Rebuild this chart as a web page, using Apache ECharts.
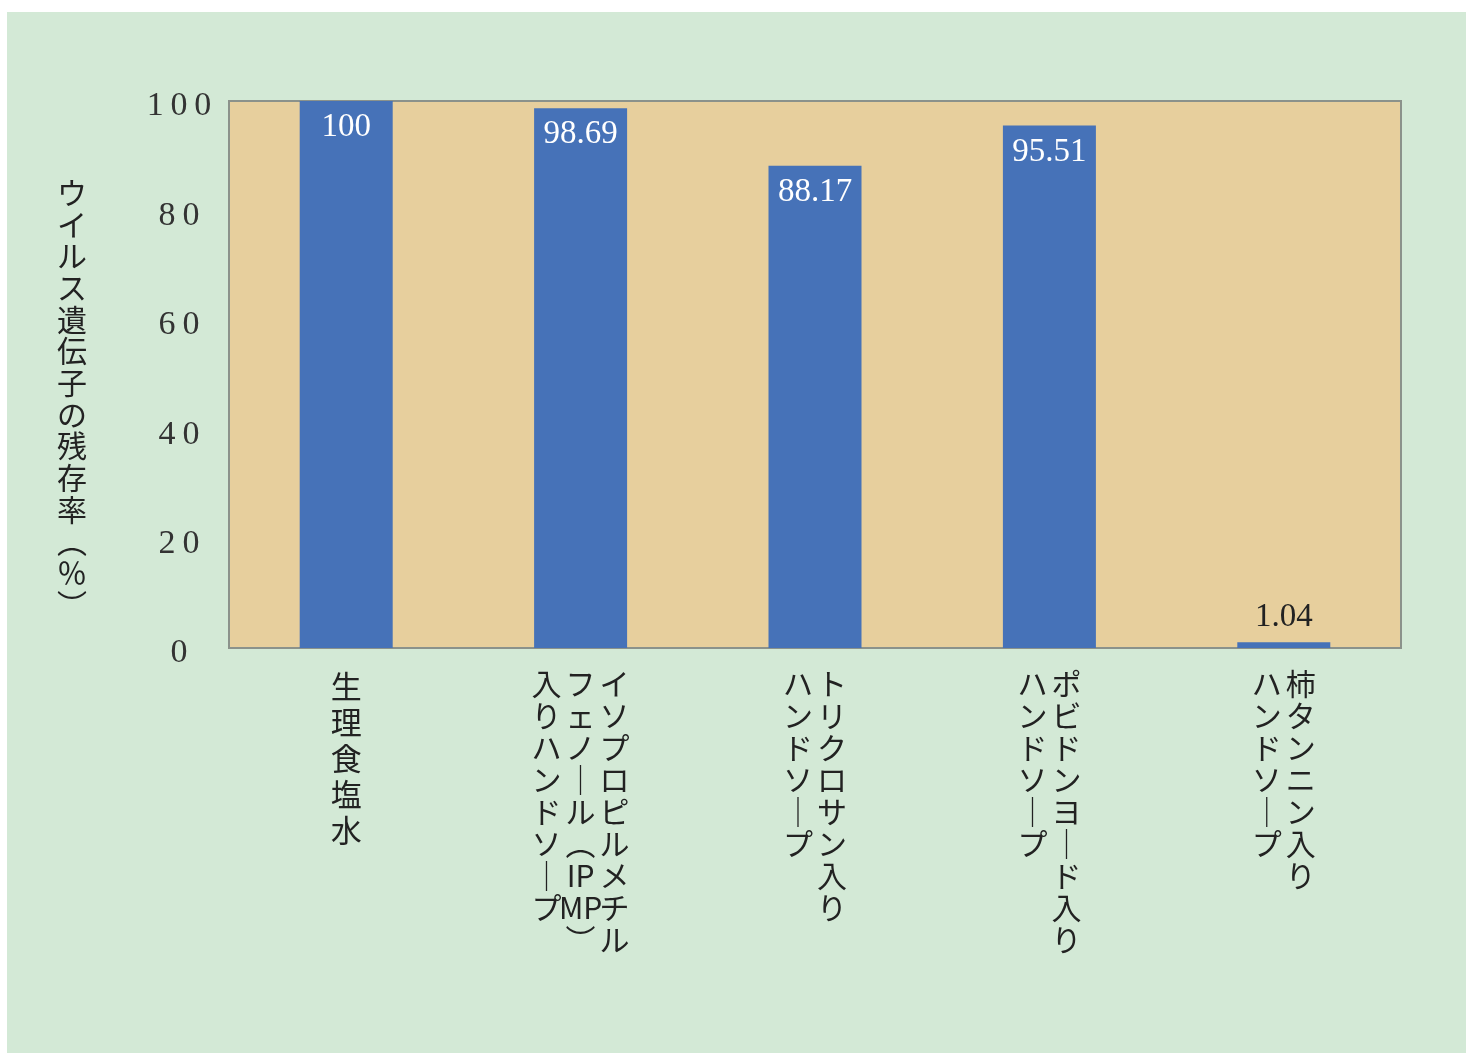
<!DOCTYPE html>
<html>
<head>
<meta charset="utf-8">
<script src="https://cdn.jsdelivr.net/npm/echarts@6/dist/echarts.min.js"></script>
<style>
  html, body { margin: 0; padding: 0; background: #ffffff; }
  #chart { position: absolute; left: 7px; top: 12px; width: 1459px; height: 1041px; background: #d3e9d6; }
</style>
</head>
<body>
<div id="chart"></div>
<script>
// categories: columns of vertical text, first column is the rightmost one
const categories = [
  "生理食塩水",
  "イソプロピルメチル\nフェノール（IPMP）\n入りハンドソープ",
  "トリクロサン入り\nハンドソープ",
  "ポビドンヨード入り\nハンドソープ",
  "柿タンニン入り\nハンドソープ"
];
const residualRate = [100, 98.69, 88.17, 95.51, 1.04];
const yTicks = [0, 20, 40, 60, 80, 100];
const yAxisName = "ウイルス遺伝子の残存率︵％︶";

// split one column into cells for vertical writing
function toCells(col) {
  const cells = [];
  let latin = "";
  for (const ch of col) {
    if (/[A-Za-z0-9]/.test(ch)) {
      latin += ch;
      if (latin.length === 2) { cells.push(latin); latin = ""; }
      continue;
    }
    if (latin) { cells.push(latin); latin = ""; }
    if (ch === "（") cells.push("︵");
    else if (ch === "）") cells.push("︶");
    else if (ch === "ー") cells.push("｜");
    else cells.push(ch);
  }
  if (latin) cells.push(latin);
  return cells;
}

const isKanji = (s) => /^[\u4e00-\u9fff]$/.test(s);

function verticalLabel(value) {
  const cols = value.split("\n").map(toCells);
  const rows = Math.max(...cols.map((c) => c.length));
  const lines = [];
  for (let r = 0; r < rows; r++) {
    const cells = cols.slice().reverse().map((c) => c[r] || "　");
    // kanji-only rows get a little more room, like the original typesetting
    const st = cells.every(isKanji) ? "k" : "c";
    lines.push(cells.map((c) => "{" + st + "|" + c + "}").join(""));
  }
  return lines.join("\n");
}

const cellStyle = {
  fontSize: 30,
  fontFamily: "Noto Sans CJK JP",
  color: "#222222",
  width: 34,
  align: "center",
  lineHeight: 32
};

const chart = echarts.init(document.getElementById("chart"));
chart.setOption({
  animation: false,
  grid: {
    left: 222,
    right: 65,
    top: 89,
    bottom: 405,
    show: true,
    backgroundColor: "#e7cf9d",
    borderColor: "#8b928b",
    borderWidth: 2
  },
  xAxis: {
    type: "category",
    data: categories,
    axisLine: { show: false },
    axisTick: { show: false },
    axisLabel: {
      interval: 0,
      margin: 20,
      formatter: verticalLabel,
      rich: {
        c: cellStyle,
        k: Object.assign({}, cellStyle, { fontSize: 31, lineHeight: 36 })
      }
    }
  },
  yAxis: {
    type: "value",
    min: 0,
    max: 100,
    interval: 20,
    axisLine: { show: false },
    axisTick: { show: false },
    splitLine: { show: false },
    axisLabel: {
      margin: 50,
      align: "center",
      verticalAlign: "top",
      lineHeight: 11,
      fontSize: 34,
      fontFamily: "Liberation Serif",
      color: "#333333",
      formatter: (v) => (yTicks.includes(v) ? String(v).split("").join("\u2009") : "")
    },
    // spacer line on top pushes the vertical name down a bit
    name: "{s|　}\n" + yAxisName.split("").map((c) => "{n|" + c + "}").join("\n"),
    nameLocation: "middle",
    nameRotate: 0,
    nameGap: 157,
    nameTextStyle: {
      align: "center",
      verticalAlign: "middle",
      rich: {
        s: { fontSize: 10, lineHeight: 48 },
        n: {
          fontSize: 30,
          fontFamily: "Noto Sans CJK JP",
          color: "#222222",
          lineHeight: 31.7
        }
      }
    }
  },
  series: [
    {
      type: "bar",
      data: residualRate.map((v) => ({
        value: v,
        label: v < 10
          ? { position: "top", color: "#222222", distance: 8 }
          : { position: "insideTop", color: "#ffffff", distance: 10 }
      })),
      barWidth: 93,
      itemStyle: { color: "#4672b8" },
      label: {
        show: true,
        fontSize: 33,
        fontFamily: "Liberation Serif"
      }
    }
  ]
});
</script>
</body>
</html>
